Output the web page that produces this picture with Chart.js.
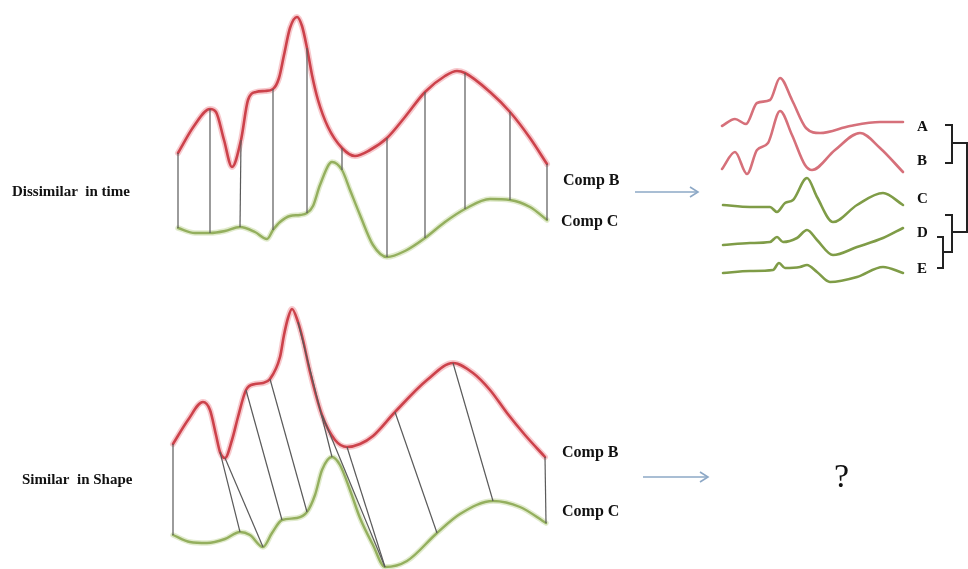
<!DOCTYPE html>
<html>
<head>
<meta charset="utf-8">
<script src="https://cdn.jsdelivr.net/npm/chart.js@4.4.1/dist/chart.umd.min.js"></script>
<style>
  html, body { margin: 0; padding: 0; background: #fff; }
  #wrap { position: relative; width: 968px; height: 569px; }
</style>
</head>
<body>
<div id="wrap"><canvas id="diagram"></canvas></div>
<script>
// traced curves, [x, y] in picture units
const topCompB = [[178,153],[194,126],[210,109],[216,112],[224,140],[232,167],[241,140],[248,100],[256,92],[265,91],[273,89],[279,78],[284,55],[290,28],[297,17],[302,26],[307,48],[312,75],[318,100],[328,127],[342,148],[355,156],[370,150],[387,138],[405,117],[425,92],[445,76],[457,71],[465,73],[490,92],[510,112],[530,138],[547,164]];
const topCompC = [[178,228],[195,233],[210,233],[225,231],[240,227],[255,232],[267,239],[273,230],[280,222],[290,216],[300,215],[307,213],[313,206],[320,185],[332,162],[342,170],[350,190],[360,215],[373,245],[387,257],[405,251],[425,238],[445,222],[465,209],[490,199],[510,200],[530,207],[547,220]];
const botCompB = [[173,444],[188,420],[203,402],[210,410],[216,435],[220,452],[225,458],[232,440],[238,417],[246,390],[255,384],[263,383],[270,379],[280,357],[284,335],[288,318],[292,309],[298,322],[303,340],[310,372],[322,415],[335,440],[347,447],[360,444],[373,436],[395,412],[427,380],[453,363],[473,373],[490,390],[507,413],[525,435],[545,457]];
const botCompC = [[173,535],[190,542],[207,543],[225,539],[240,532],[250,535],[263,547],[272,533],[282,520],[297,518],[307,512],[315,495],[322,470],[332,457],[340,465],[350,490],[360,518],[373,545],[385,567],[407,561],[437,533],[460,514],[493,501],[520,507],[546,523]];

// alignment links: x on Comp B -> x on Comp C
const topLinks = [[178,178],[210,210],[241,240],[273,273],[307,307],[342,342],[387,387],[425,425],[465,465],[510,510],[547,547]];
const botLinks = [[173,173],[220,240],[225,263],[246,282],[270,307],[298,332],[322,385],[347,385],[395,437],[453,493],[545,546]];

// clustered series on the right
const seriesA = [[722,126],[735,119],[746,124],[757,103],[770,100],[780,78],[792,100],[806,128],[820,133],[850,126],[880,122],[903,122]];
const seriesB = [[722,169],[735,152],[747,174],[757,150],[768,143],[780,111],[792,135],[805,165],[812,170],[835,150],[860,133],[880,148],[903,172]];
const seriesC = [[723,205],[750,207],[770,207],[777,212],[785,203],[793,200],[807,178],[817,197],[833,222],[857,205],[883,193],[903,205]];
const seriesD = [[723,245],[750,243],[770,242],[777,237],[783,242],[797,238],[807,230],[817,240],[833,255],[857,247],[883,238],[903,228]];
const seriesE = [[723,273],[750,271],[773,270],[779,263],[785,268],[800,267],[807,265],[817,272],[830,282],[857,277],[883,267],[903,273]];
const seriesNames = ['A', 'B', 'C', 'D', 'E'];

// dendrogram brackets
const brackets = [
  [[945,125],[952,125],[952,163],[945,163]],
  [[952,143],[967,143],[967,232],[952,232]],
  [[945,215],[952,215],[952,252],[943,252]],
  [[937,237],[943,237],[943,268],[937,268]]
];

const arrows = [[[635,192],[698,192]], [[643,477],[708,477]]];

const RED = '#b81f27';
const GREEN = '#7f9c47';
const PALE_RED = '#d6707a';
const LINK = '#5a5a5a';
const ARROW = '#8da8c6';

function pts(arr) { return arr.map(p => ({ x: p[0], y: p[1] })); }
function yAt(arr, x) { return arr.find(p => p[0] === x)[1]; }

function curve(arr, color, width) {
  return {
    data: pts(arr), borderColor: color, borderWidth: width,
    showLine: true, pointRadius: 0, cubicInterpolationMode: 'monotone',
    fill: false, borderCapStyle: 'round', borderJoinStyle: 'round'
  };
}
function segment(arr, color, width) {
  return { data: pts(arr), borderColor: color, borderWidth: width, showLine: true, pointRadius: 0, tension: 0, fill: false };
}

const datasets = [];
topLinks.forEach(l => datasets.push(segment([[l[0], yAt(topCompB, l[0])], [l[1], yAt(topCompC, l[1])]], LINK, 1.2)));
botLinks.forEach(l => datasets.push(segment([[l[0], yAt(botCompB, l[0])], [l[1], yAt(botCompC, l[1])]], LINK, 1.2)));

[topCompB, botCompB].forEach(c => {
  datasets.push(curve(c, 'rgba(235,120,130,0.4)', 6));
  datasets.push(curve(c, RED, 2.6));
});
[topCompC, botCompC].forEach(c => {
  datasets.push(curve(c, 'rgba(180,205,130,0.4)', 5.5));
  datasets.push(curve(c, GREEN, 2.4));
});
[seriesA, seriesB].forEach(c => datasets.push(curve(c, PALE_RED, 2.6)));
[seriesC, seriesD, seriesE].forEach(c => datasets.push(curve(c, GREEN, 2.6)));
brackets.forEach(b => datasets.push(segment(b, '#222', 2)));
arrows.forEach(a => {
  datasets.push(segment(a, ARROW, 1.6));
  const end = a[1];
  datasets.push(segment([[end[0] - 8, end[1] - 5], end, [end[0] - 8, end[1] + 5]], ARROW, 1.6));
});

const serif = '"Liberation Serif", "DejaVu Serif", serif';
const labels = [
  { text: 'Dissimilar  in time', x: 12, y: 192, size: 15, bold: true },
  { text: 'Similar  in Shape', x: 22, y: 480, size: 15, bold: true },
  { text: 'Comp B', x: 563, y: 181, size: 16, bold: true },
  { text: 'Comp C', x: 561, y: 222, size: 16, bold: true },
  { text: 'Comp B', x: 562, y: 453, size: 16, bold: true },
  { text: 'Comp C', x: 562, y: 512, size: 16, bold: true },
  { text: '?', x: 834, y: 478, size: 34, bold: false }
];
const seriesLabelY = [127, 161, 199, 233, 269];
seriesNames.forEach((n, i) => labels.push({ text: n, x: 917, y: seriesLabelY[i], size: 15, bold: true }));

const textPlugin = {
  id: 'textLabels',
  afterDatasetsDraw(chart) {
    const { ctx, scales } = chart;
    ctx.save();
    ctx.fillStyle = '#111';
    ctx.textBaseline = 'middle';
    ctx.textAlign = 'left';
    labels.forEach(l => {
      ctx.font = (l.bold ? 'bold ' : '') + l.size + 'px ' + serif;
      ctx.fillText(l.text, scales.x.getPixelForValue(l.x), scales.y.getPixelForValue(l.y));
    });
    ctx.restore();
  }
};

new Chart(document.getElementById('diagram').getContext('2d'), {
  type: 'scatter',
  data: { datasets: datasets },
  options: {
    responsive: true,
    maintainAspectRatio: false,
    animation: false,
    layout: { padding: 0 },
    clip: false,
    scales: {
      x: { type: 'linear', min: 0, max: 968, display: false },
      y: { type: 'linear', min: 0, max: 569, reverse: true, display: false }
    },
    plugins: { legend: { display: false }, tooltip: { enabled: false } }
  },
  plugins: [textPlugin]
});
</script>
</body>
</html>
